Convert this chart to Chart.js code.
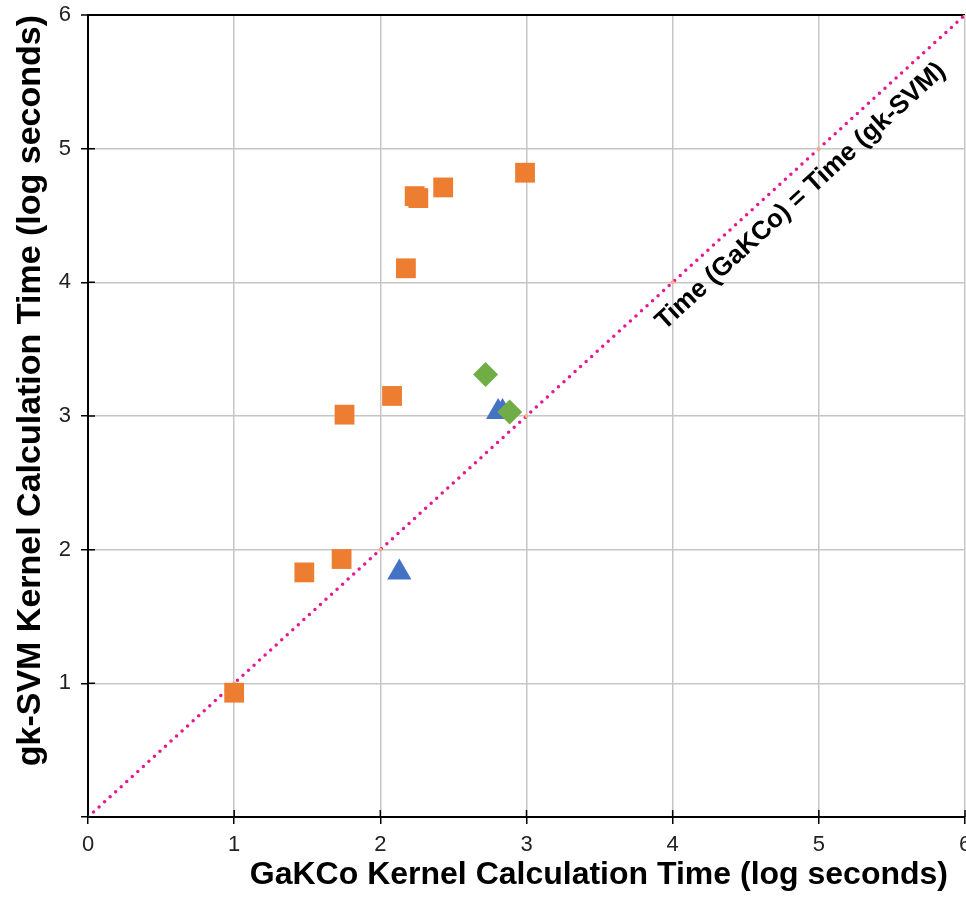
<!DOCTYPE html>
<html>
<head>
<meta charset="utf-8">
<script src="https://cdn.jsdelivr.net/npm/chart.js@4.4.1/dist/chart.umd.min.js"></script>
<style>
  body { margin: 0; background: #fff; }
  #wrap { width: 966px; height: 903px; }
</style>
</head>
<body>
<div id="wrap"><canvas id="timeChart"></canvas></div>
<script>
// values (log seconds)
var squareX = [1.0, 1.48, 1.735, 1.755, 2.08, 2.175, 2.235, 2.26, 2.43, 2.99];
var squareY = [0.93, 1.83, 1.93, 3.01, 3.15, 4.105, 4.645, 4.63, 4.71, 4.82];
var triangleX = [2.13, 2.806, 2.836];
var triangleY = [1.83, 3.03, 3.03];
var diamondX = [2.72, 2.885];
var diamondY = [3.31, 3.03];
var parityX = [0, 1, 2, 3, 4, 5, 6];
var parityY = [0, 1, 2, 3, 4, 5, 6];
var tickValues = [0, 1, 2, 3, 4, 5, 6];
var parityLabel = "Time (GaKCo) = Time (gk-SVM)";
var xTitle = "GaKCo Kernel Calculation Time (log seconds)";
var yTitle = "gk-SVM Kernel Calculation Time (log seconds)";

function toPoints(xs, ys) {
    return xs.map(function (v, i) { return { x: v, y: ys[i] }; });
}

var tickFont = { family: '"Liberation Sans Narrow", "Liberation Sans", Arial, sans-serif', size: 22 };
var gridGrey = "#c6c6c6";

// inner half of the tick marks, x axis title, rotated label on the parity line
var extras = {
    id: "extras",
    afterDraw: function (chart) {
        var ctx = chart.ctx, x = chart.scales.x, y = chart.scales.y;
        ctx.save();
        ctx.strokeStyle = "#000";
        ctx.lineWidth = 1.5;
        ctx.beginPath();
        tickValues.forEach(function (v) {
            var px = x.getPixelForValue(v), py = y.getPixelForValue(v);
            ctx.moveTo(px, y.bottom);
            ctx.lineTo(px, y.bottom - 7);
            ctx.moveTo(x.left, py);
            ctx.lineTo(x.left + 7, py);
        });
        ctx.stroke();

        ctx.fillStyle = "#000";
        ctx.font = 'bold 32px "Liberation Sans", Arial, sans-serif';
        ctx.textAlign = "right";
        ctx.textBaseline = "middle";
        ctx.fillText(xTitle, x.right - 17, x.bottom - 28);

        var ang = Math.atan2(y.getPixelForValue(6) - y.getPixelForValue(0),
                             x.getPixelForValue(6) - x.getPixelForValue(0));
        ctx.translate(x.getPixelForValue(4.77), y.getPixelForValue(4.77));
        ctx.rotate(ang);
        ctx.font = 'bold 26px "Liberation Sans", Arial, sans-serif';
        ctx.textAlign = "center";
        ctx.fillText(parityLabel, 0, 23);
        ctx.restore();
    }
};

var timeChart = new Chart("timeChart", {
    type: "scatter",
    data: {
        datasets: [{
            data: toPoints(squareX, squareY),
            pointStyle: "rect",
            pointRadius: 14,
            pointHoverRadius: 14,
            backgroundColor: "#ED7D31",
            borderWidth: 0,
            order: 1
        }, {
            data: toPoints(triangleX, triangleY),
            pointStyle: "triangle",
            pointRadius: 14,
            pointHoverRadius: 14,
            backgroundColor: "#4472C4",
            borderWidth: 0,
            order: 2
        }, {
            data: toPoints(diamondX, diamondY),
            pointStyle: "rectRot",
            pointRadius: 12.5,
            pointHoverRadius: 12.5,
            backgroundColor: "#70AD47",
            borderWidth: 0,
            order: 0
        }, {
            data: toPoints(parityX, parityY),
            showLine: true,
            borderColor: "#E8178F",
            borderWidth: 3.5,
            borderDash: [0, 7.5],
            borderCapStyle: "round",
            pointRadius: 2,
            pointBackgroundColor: "#F4B183",
            pointBorderWidth: 0,
            order: 5
        }]
    },
    options: {
        responsive: true,
        maintainAspectRatio: false,
        animation: false,
        layout: { autoPadding: false, padding: { top: 15, right: 1 } },
        plugins: { legend: { display: false }, tooltip: { enabled: false } },
        scales: {
            x: {
                type: "linear",
                min: 0,
                max: 6,
                afterFit: function (s) { s.height = 86; s.paddingLeft = 0; s.paddingRight = 0; },
                ticks: {
                    stepSize: 1,
                    padding: 8,
                    color: "#222",
                    font: tickFont,
                    maxRotation: 0
                },
                grid: { color: gridGrey, lineWidth: 1.5, tickColor: "#000", tickLength: 7, tickWidth: 1.5 },
                border: { color: "#000", width: 2 }
            },
            y: {
                type: "linear",
                min: 0,
                max: 6,
                afterFit: function (s) { s.width = 88; s.paddingTop = 0; s.paddingBottom = 0; },
                ticks: {
                    stepSize: 1,
                    padding: 10,
                    color: "#222",
                    font: tickFont,
                    callback: function (v) { return v === 0 ? "" : v; }
                },
                grid: {
                    color: function (c) { return c.tick && c.tick.value === 6 ? "#000" : gridGrey; },
                    lineWidth: function (c) { return c.tick && c.tick.value === 6 ? 2 : 1.5; },
                    tickColor: "#000",
                    tickLength: 7,
                    tickWidth: 1.5
                },
                border: { color: "#000", width: 2 },
                title: {
                    display: true,
                    text: yTitle,
                    align: "end",
                    color: "#000",
                    font: { family: '"Liberation Sans", Arial, sans-serif', size: 34, weight: "bold" },
                    padding: { top: 10, bottom: 0 }
                }
            }
        }
    },
    plugins: [extras]
});
</script>
</body>
</html>
